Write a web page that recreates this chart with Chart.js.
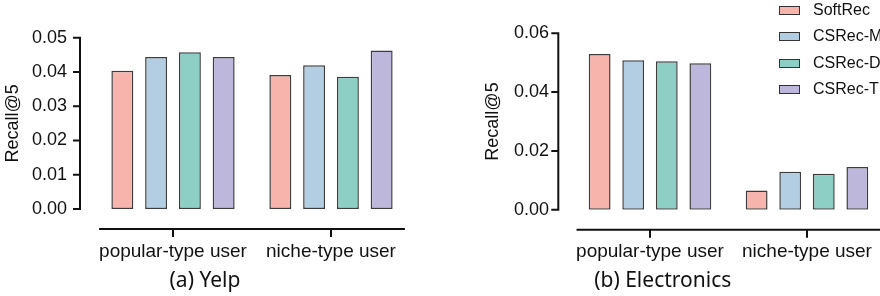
<!DOCTYPE html>
<html>
<head>
<meta charset="utf-8">
<script src="https://cdn.jsdelivr.net/npm/chart.js@4.4.1/dist/chart.umd.min.js"></script>
<style>
  html, body { margin: 0; padding: 0; background: #fff; }
  #wrap { position: relative; width: 880px; height: 296px; overflow: hidden; }
  #yelp { position: absolute; left: 0; top: 0; }
  #elec { position: absolute; left: 440px; top: 0; }
  #legend { position: absolute; left: 779px; top: 0; font: 16px "Liberation Sans", Arial, sans-serif; color: #111; }
  #legend .row { position: absolute; left: 0; height: 20px; white-space: nowrap; }
  #legend .box { position: absolute; left: 0; top: 6px; width: 19px; height: 7px; border: 1px solid #333; }
  #legend .lab { position: absolute; left: 34px; top: 1px; line-height: 18px; }
</style>
</head>
<body>
<div id="wrap">
  <canvas id="yelp" width="440" height="296"></canvas>
  <canvas id="elec" width="524" height="296"></canvas>
  <div id="legend"></div>
</div>
<script>
// categories and series
var categories = ['popular-type user', 'niche-type user'];
var seriesNames = ['SoftRec', 'CSRec-M', 'CSRec-D', 'CSRec-T'];
var seriesColors = ['#F7B4AC', '#B3CDE2', '#8ECFC5', '#BDB8DB'];

// (a) Yelp, Recall@5
var yelpSoftRec = [0.0404, 0.0391];
var yelpCSRecM  = [0.0444, 0.0420];
var yelpCSRecD  = [0.0458, 0.0386];
var yelpCSRecT  = [0.0444, 0.0463];
var yelpYMax = 0.05, yelpYStep = 0.01;

// (b) Electronics, Recall@5
var elecSoftRec = [0.0530, 0.0065];
var elecCSRecM  = [0.0508, 0.0129];
var elecCSRecD  = [0.0505, 0.0122];
var elecCSRecT  = [0.0498, 0.0145];
var elecYMax = 0.06, elecYStep = 0.02;

// detached axes: y line left of the plot, x line below zero
var prismAxes = {
  id: 'prismAxes',
  afterDraw: function(chart, args, opts) {
    var ctx = chart.ctx, area = chart.chartArea;
    var x = chart.scales.x, y = chart.scales.y;
    ctx.save();
    ctx.strokeStyle = '#111';
    ctx.lineWidth = 2;
    ctx.beginPath();
    var ax = area.left - opts.gap;
    ctx.moveTo(ax, y.getPixelForValue(y.max) - 1);
    ctx.lineTo(ax, y.getPixelForValue(0) + 1);
    y.ticks.forEach(function(t) {
      var py = y.getPixelForValue(t.value);
      ctx.moveTo(ax - 7, py);
      ctx.lineTo(ax, py);
    });
    var c0 = x.getPixelForValue(0), c1 = x.getPixelForValue(1);
    var half = (c1 - c0) * 0.468;
    var ay = area.bottom + 20;
    ctx.moveTo(c0 - half, ay);
    ctx.lineTo(c1 + half, ay);
    [c0, c1].forEach(function(px) {
      ctx.moveTo(px, ay);
      ctx.lineTo(px, ay + 8);
    });
    ctx.stroke();
    ctx.restore();
  }
};

function makeDatasets(values) {
  return values.map(function(v, i) {
    return {
      label: seriesNames[i],
      data: v,
      backgroundColor: seriesColors[i],
      borderColor: 'rgba(40,40,40,0.9)',
      borderWidth: 1.5,
      borderSkipped: false,
      categoryPercentage: 0.855,
      barPercentage: 0.65
    };
  });
}

function makeChart(id, values, cfg) {
  return new Chart(document.getElementById(id), {
    type: 'bar',
    data: { labels: categories, datasets: makeDatasets(values) },
    plugins: [prismAxes],
    options: {
      responsive: false,
      animation: false,
      devicePixelRatio: 1,
      layout: { padding: { left: 0, right: cfg.padRight, top: cfg.padTop, bottom: 0 } },
      scales: {
        x: {
          grid: { display: false, drawTicks: false },
          border: { display: false },
          ticks: { padding: 31, color: '#111', font: { family: 'Liberation Sans', size: 19 } },
          afterFit: function(s) { s.height = cfg.xHeight; }
        },
        y: {
          min: 0,
          max: cfg.yMax,
          grid: { display: false, drawTicks: false },
          border: { display: false },
          ticks: {
            stepSize: cfg.yStep,
            padding: cfg.tickPad,
            color: '#111',
            font: { family: 'Liberation Sans', size: 18 },
            callback: function(v) { return v.toFixed(2); }
          },
          title: {
            display: true,
            text: 'Recall@5',
            color: '#111',
            font: { family: 'Liberation Sans', size: 18 },
            padding: { top: cfg.titlePad, bottom: 0 }
          },
          afterFit: function(s) { s.width = cfg.yWidth; }
        }
      },
      plugins: {
        legend: { display: false },
        tooltip: { enabled: false },
        title: {
          display: true,
          position: 'bottom',
          text: cfg.title,
          color: '#111',
          font: { family: 'Noto Sans', size: 21, weight: 'normal' },
          padding: { top: 0, bottom: 2 }
        },
        prismAxes: { gap: cfg.gap }
      }
    }
  });
}

makeChart('yelp', [yelpSoftRec, yelpCSRecM, yelpCSRecD, yelpCSRecT], {
  title: '(a) Yelp', yMax: yelpYMax, yStep: yelpYStep,
  padTop: 28, padRight: 30, yWidth: 94, xHeight: 59.8,
  tickPad: 27, titlePad: 2, gap: 14
});

makeChart('elec', [elecSoftRec, elecCSRecM, elecCSRecD, elecCSRecT], {
  title: '(b) Electronics', yMax: elecYMax, yStep: elecYStep,
  padTop: 31, padRight: 78.5, yWidth: 131.5, xHeight: 59.1,
  tickPad: 22.5, titlePad: 42, gap: 13.2
});

// legend built from the series arrays
var legend = document.getElementById('legend');
var rowTops = [0, 26, 53, 79];
seriesNames.forEach(function(name, i) {
  var row = document.createElement('div');
  row.className = 'row';
  row.style.top = rowTops[i] + 'px';
  var box = document.createElement('span');
  box.className = 'box';
  box.style.background = seriesColors[i];
  var lab = document.createElement('span');
  lab.className = 'lab';
  lab.textContent = name;
  row.appendChild(box);
  row.appendChild(lab);
  legend.appendChild(row);
});
</script>
</body>
</html>
